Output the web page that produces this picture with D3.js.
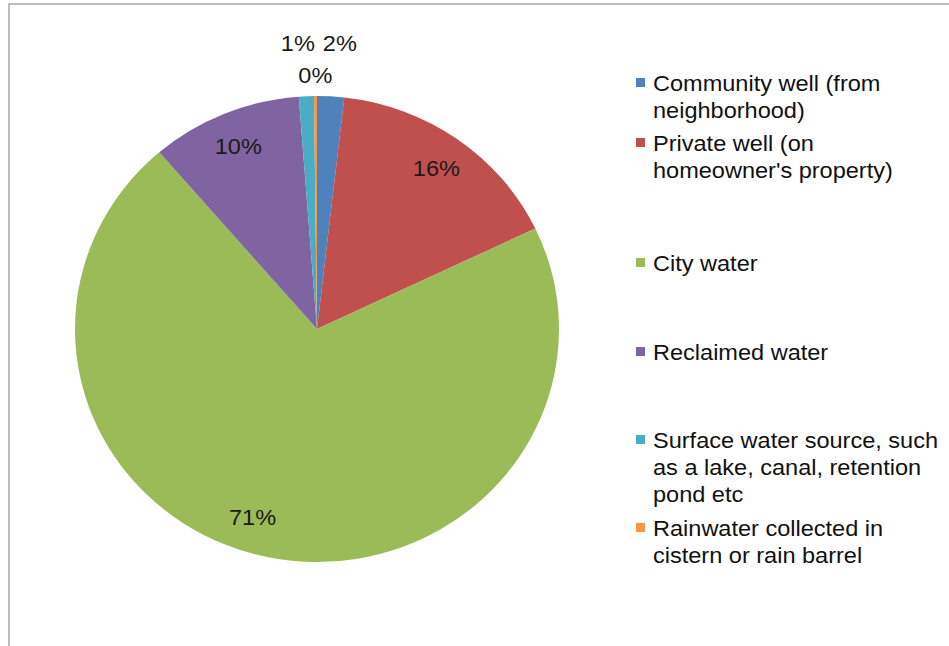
<!DOCTYPE html>
<html><head><meta charset="utf-8">
<script src="https://cdn.jsdelivr.net/npm/d3@7"></script>
<style>
body{margin:0;background:#fff;}
svg{display:block;}
text{font-family:"Liberation Sans",Arial,sans-serif;}
</style></head>
<body>
<svg id="chart" width="949" height="646"></svg>
<script>
const categories = [
  "Community well (from neighborhood)",
  "Private well (on homeowner's property)",
  "City water",
  "Reclaimed water",
  "Surface water source, such as a lake, canal, retention pond etc",
  "Rainwater collected in cistern or rain barrel"
];
const legendLines = [
  ["Community well (from", "neighborhood)"],
  ["Private well (on", "homeowner's property)"],
  ["City water"],
  ["Reclaimed water"],
  ["Surface water source, such", "as a lake, canal, retention", "pond etc"],
  ["Rainwater collected in", "cistern or rain barrel"]
];
const values = [1.8, 16.1, 70.8, 10.1, 1.0, 0.2];
const colors = ["#4F81BD", "#C0504D", "#9BBB59", "#8064A2", "#4BACC6", "#F79646"];

// layout
const W = 949, H = 646;
const cx = 317, cy = 329, ry = 233, rx = 242;
const sx = rx / ry;
const labelFont = 22, legendFont = 22, textSX = 1.07;
const legendX = 636, legendTextX = 653, lineH = 27;
const legendRowTop = [83, 143, 263, 352, 440, 528];
const outsideR = {0: 1.23, 4: 1.23, 5: 1.088};
const labelFrac = {2: 0.525};

const svg = d3.select("#chart");

// frame (cropped chart area)
svg.append("path")
  .attr("d", `M9,${H} L9,4 L${W},4`)
  .attr("fill", "none").attr("stroke", "#a6a6a6").attr("stroke-width", 1.5);

const total = d3.sum(values);
const pie = d3.pie().sort(null).value(d => d)(values);
const arc = d3.arc().innerRadius(0).outerRadius(ry);

const g = svg.append("g").attr("transform", `translate(${cx},${cy}) scale(${sx},1)`);
g.selectAll("path").data(pie).join("path")
  .attr("d", arc)
  .attr("fill", (d, i) => colors[i]);

// labels
const labels = pie.map((d, i) => {
  const fr = labelFrac[i] !== undefined ? labelFrac[i] : 0.5;
  const a = d.startAngle + (d.endAngle - d.startAngle) * fr;
  const f = outsideR[i] !== undefined ? outsideR[i] : 0.85;
  return {
    i,
    text: Math.round(d.value / total * 100) + "%",
    x: cx + Math.sin(a) * ry * f * sx,
    y: cy - Math.cos(a) * ry * f,
    outside: outsideR[i] !== undefined
  };
});
// resolve overlaps among outside labels on same row
const lw = 34, gap = 8;
for (let k = 0; k < 5; k++) {
  const outs = labels.filter(l => l.outside);
  for (let a = 0; a < outs.length; a++) for (let b = a + 1; b < outs.length; b++) {
    const A = outs[a], B = outs[b];
    if (Math.abs(A.y - B.y) < labelFont) {
      const d = Math.abs(A.x - B.x);
      if (d < lw + gap) {
        const push = (lw + gap - d) / 2;
        const [L, R] = A.x < B.x ? [A, B] : [B, A];
        L.x -= push; R.x += push;
      }
    }
  }
}
svg.append("g").selectAll("text").data(labels).join("text")
  .attr("transform", d => `translate(${d.x},${d.y}) scale(${textSX},1)`)
  .attr("dy", "0.36em")
  .attr("text-anchor", "middle")
  .attr("font-size", labelFont)
  .attr("fill", "#1a1a1a")
  .text(d => d.text);

// legend
const lg = svg.append("g");
legendLines.forEach((lines, i) => {
  const top = legendRowTop[i];
  lg.append("rect")
    .attr("x", legendX).attr("y", top - 5)
    .attr("width", 9).attr("height", 9)
    .attr("fill", colors[i]);
  const t = lg.append("text")
    .attr("transform", `translate(${legendTextX},${top}) scale(${textSX},1)`)
    .attr("font-size", legendFont)
    .attr("fill", "#111");
  lines.forEach((ln, j) => {
    t.append("tspan")
      .attr("x", 0)
      .attr("y", j * lineH)
      .attr("dy", "0.36em")
      .text(ln);
  });
});
</script>
</body></html>
